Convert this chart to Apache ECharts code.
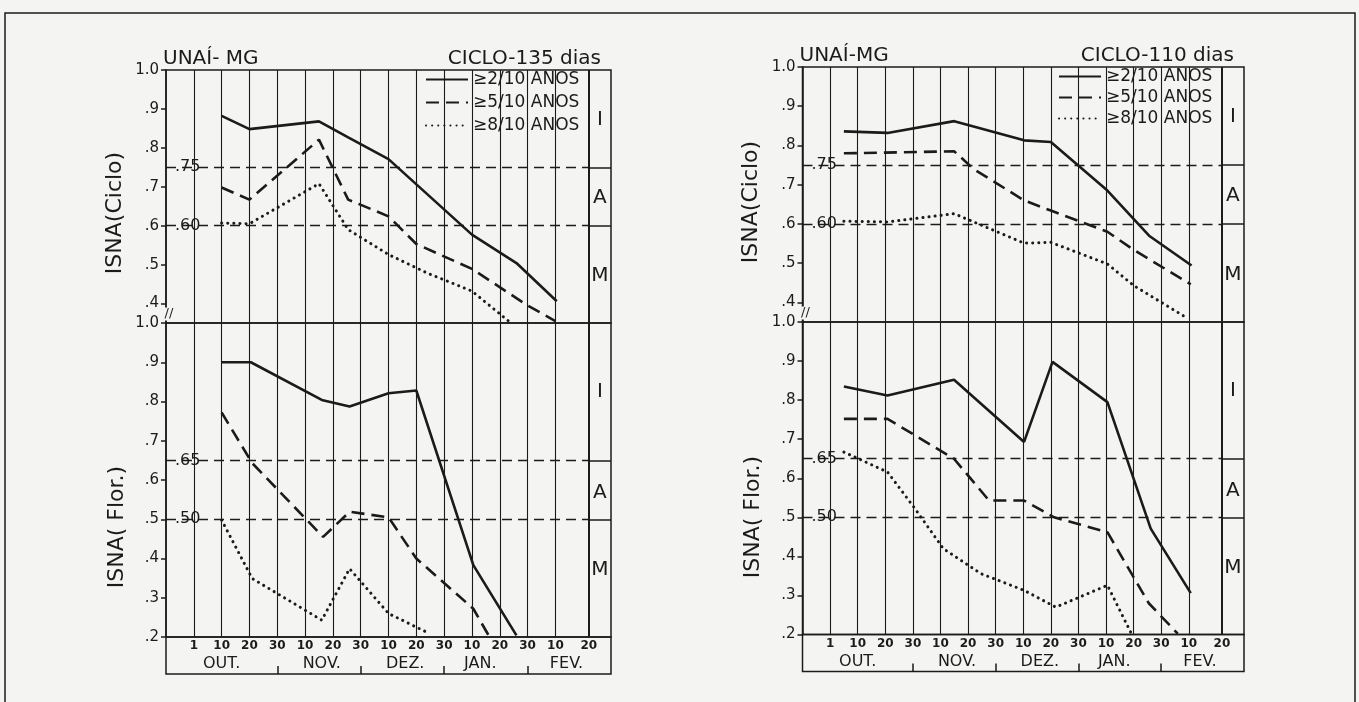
<!DOCTYPE html>
<html>
<head>
<meta charset="utf-8">
<title>ISNA - Unaí MG</title>
<script src="https://cdn.jsdelivr.net/npm/echarts@6/dist/echarts.min.js"></script>
<style>
  html, body { margin: 0; padding: 0; background: #f4f4f2; }
  #chart { width: 1359px; height: 702px; }
</style>
</head>
<body>
<div id="chart"></div>
<script>
// x is counted in ten-day steps: 1 = 1 OUT, 2 = 10 OUT, 3 = 20 OUT ... 14 = 10 FEV
const dayTicks = [1, 2, 3, 4, 5, 6, 7, 8, 9, 10, 11, 12, 13, 14, 15.2]
const dayLabels = ['1', '10', '20', '30', '10', '20', '30', '10', '20', '30', '10', '20', '30', '10', '20']
const monthPos = [2.0, 5.6, 8.6, 11.3, 14.4]
const monthLabels = ['OUT.', 'NOV.', 'DEZ.', 'JAN.', 'FEV.']
const monthSeps = [4, 7, 10, 13]
const seriesNames = ['≥2/10 ANOS', '≥5/10 ANOS', '≥8/10 ANOS']

const cicloTicks = [0.4, 0.5, 0.6, 0.7, 0.8, 0.9, 1.0]
const florTicks = [0.2, 0.3, 0.4, 0.5, 0.6, 0.7, 0.8, 0.9, 1.0]
const cicloLimits = [0.75, 0.60]
const cicloLimitLabels = ['.75', '.60']
const florLimits = [0.65, 0.50]
const florLimitLabels = ['.65', '.50']
const classLabels = ['I', 'A', 'M']
const cicloClassY = [0.872, 0.672, 0.47]
const florClassY = [0.825, 0.568, 0.37]

// CICLO-135 dias, ISNA(Ciclo)
const c135Ciclo2X = [2, 3, 5.5, 6.55, 8, 11, 12.6, 14.05]
const c135Ciclo2Y = [0.882, 0.848, 0.868, 0.827, 0.771, 0.577, 0.504, 0.406]
const c135Ciclo5X = [2, 3, 5.5, 6.55, 8, 9, 11, 13, 14]
const c135Ciclo5Y = [0.698, 0.667, 0.821, 0.667, 0.624, 0.553, 0.489, 0.395, 0.355]
const c135Ciclo8X = [2, 3, 5.5, 6.55, 8, 9.4, 11, 12.3]
const c135Ciclo8Y = [0.607, 0.605, 0.708, 0.59, 0.526, 0.478, 0.432, 0.356]

// CICLO-135 dias, ISNA(Flor.)
const c135Flor2X = [2, 3.05, 5.6, 6.6, 8, 9, 11.05, 12.6]
const c135Flor2Y = [0.9, 0.9, 0.804, 0.787, 0.821, 0.828, 0.383, 0.204]
const c135Flor5X = [2, 3.1, 5.65, 6.6, 8, 9, 11.05, 11.6]
const c135Flor5Y = [0.772, 0.643, 0.455, 0.519, 0.505, 0.4, 0.272, 0.204]
const c135Flor8X = [2, 3.1, 5.6, 6.6, 8, 9.35]
const c135Flor8Y = [0.498, 0.349, 0.243, 0.374, 0.26, 0.213]

// CICLO-110 dias, ISNA(Ciclo)
const c110Ciclo2X = [1.5, 3.08, 5.5, 8.03, 9, 11.05, 12.56, 14.1]
const c110Ciclo2Y = [0.836, 0.832, 0.862, 0.813, 0.809, 0.685, 0.57, 0.494]
const c110Ciclo5X = [1.5, 5.5, 6.2, 8.03, 9, 11.05, 12, 14.07]
const c110Ciclo5Y = [0.78, 0.785, 0.74, 0.66, 0.634, 0.58, 0.534, 0.446]
const c110Ciclo8X = [1.5, 3.08, 5.5, 8.03, 9, 11.05, 12, 13.8]
const c110Ciclo8Y = [0.607, 0.605, 0.626, 0.551, 0.553, 0.498, 0.443, 0.366]

// CICLO-110 dias, ISNA(Flor.)
const c110Flor2X = [1.5, 3.08, 5.49, 8.03, 9.06, 11.05, 12.62, 14.07]
const c110Flor2Y = [0.835, 0.812, 0.852, 0.693, 0.898, 0.795, 0.471, 0.306]
const c110Flor5X = [1.5, 3.08, 5.49, 6.76, 8.03, 9.12, 11.05, 12.55, 13.6]
const c110Flor5Y = [0.752, 0.752, 0.65, 0.543, 0.543, 0.5, 0.462, 0.28, 0.202]
const c110Flor8X = [1.5, 3.08, 4.1, 5.1, 6.46, 8.03, 9.18, 11.05, 11.9]
const c110Flor8Y = [0.667, 0.616, 0.52, 0.42, 0.356, 0.313, 0.27, 0.326, 0.205]

const ink = '#1b1b1b'
const paper = '#f4f4f2'
const fontFamily = 'DejaVu Sans'
const colEdge = 15.2
const classX = 15.6

const lineStyles = [
  { color: ink, width: 2.6, type: 'solid' },
  { color: ink, width: 2.6, type: [13, 7] },
  { color: ink, width: 3, type: [0.1, 6], cap: 'round' }
]

const zip = (xs, ys) => xs.map((x, i) => [x, ys[i]])
const yFmt = v => (v > 0.99 ? '1.0' : '.' + Math.round(v * 10))

const option = {
  backgroundColor: paper,
  animation: false,
  color: [ink, ink, ink],
  textStyle: { fontFamily },
  title: [],
  legend: [],
  grid: [],
  xAxis: [],
  yAxis: [],
  series: [],
  graphic: []
}

const textLabel = (size, extra) => Object.assign({
  show: true, formatter: '{b}', fontSize: size, color: ink, fontFamily,
  textBorderWidth: 0, opacity: 1
}, extra)

function addPanel (fig, top, height, min, ticks, limits, limitLabels, classY, lines) {
  const gi = option.grid.length
  option.grid.push({
    left: fig.left, top, width: fig.right - fig.left, height,
    show: true, borderColor: ink, borderWidth: 1.5, backgroundColor: 'transparent'
  })
  const xi = option.xAxis.length
  option.xAxis.push({ type: 'value', gridIndex: gi, min: 0, max: 16, show: false })
  const yi = option.yAxis.length
  option.yAxis.push({
    type: 'value', gridIndex: gi, min, max: 1,
    axisLine: { show: true, lineStyle: { color: ink, width: 1.5 } },
    axisTick: { show: true, length: 5, customValues: ticks, lineStyle: { color: ink, width: 1.5 } },
    axisLabel: { customValues: ticks, margin: 7, fontSize: 15, color: ink, fontFamily, formatter: yFmt },
    splitLine: { show: false }
  })
  const axes = { xAxisIndex: xi, yAxisIndex: yi }

  // vertical lines at the ten-day marks, the last one heavier
  option.series.push({
    type: 'line', ...axes, data: [], silent: true, z: 1,
    markLine: {
      silent: true, symbol: ['none', 'none'], label: { show: false },
      lineStyle: { color: ink, width: 1.1, type: 'solid' },
      data: dayTicks.map((t, i) => (i === dayTicks.length - 1 ? { xAxis: t, lineStyle: { width: 2 } } : { xAxis: t }))
    }
  })

  // class limits: dashed in the plot, solid in the class column
  option.series.push({
    type: 'line', ...axes, data: [], silent: true, z: 1,
    markLine: {
      silent: true, symbol: ['none', 'none'], label: { show: false },
      lineStyle: { color: ink },
      data: limits.flatMap(v => [
        [{ coord: [0, v], lineStyle: { type: [10, 6], width: 1.4 } }, { coord: [colEdge, v] }],
        [{ coord: [colEdge, v], lineStyle: { type: 'solid', width: 1.5 } }, { coord: [16, v] }]
      ])
    }
  })

  lines.forEach((pts, k) => {
    option.series.push({
      type: 'line', name: seriesNames[k], ...axes, data: pts,
      symbol: 'none', silent: true, z: 3, lineStyle: lineStyles[k], itemStyle: { color: ink }
    })
  })

  option.series.push({
    type: 'scatter', ...axes, symbolSize: 0.1, silent: true, z: 4,
    itemStyle: { color: ink },
    data: limits.map((v, i) => ({ value: [0.25, v], name: limitLabels[i] })),
    label: textLabel(16, { position: 'right', distance: 0, backgroundColor: paper, padding: [0, 2] })
  })
  option.series.push({
    type: 'scatter', ...axes, symbolSize: 0.1, silent: true, z: 4,
    itemStyle: { color: ink },
    data: classY.map((v, i) => ({ value: [classX, v], name: classLabels[i] })),
    label: textLabel(20, { position: 'inside' })
  })
}

function addLabelBox (fig) {
  const gi = option.grid.length
  option.grid.push({
    left: fig.left, top: fig.bottom, width: fig.right - fig.left, height: fig.boxBottom - fig.bottom,
    show: true, borderColor: ink, borderWidth: 1.5, backgroundColor: 'transparent'
  })
  option.xAxis.push({
    type: 'value', gridIndex: gi, min: 0, max: 16, position: 'top',
    axisLine: { show: false }, axisTick: { show: false }, splitLine: { show: false },
    axisLabel: {
      inside: true, margin: 3, customValues: dayTicks, fontSize: 12, fontWeight: 'bold', color: ink, fontFamily,
      formatter: v => dayLabels[dayTicks.indexOf(v)] || ''
    }
  })
  option.xAxis.push({
    type: 'value', gridIndex: gi, min: 0, max: 16, position: 'bottom',
    axisLine: { show: false }, splitLine: { show: false },
    axisTick: { show: true, inside: true, length: 8, customValues: monthSeps, lineStyle: { color: ink, width: 1.5 } },
    axisLabel: {
      inside: true, margin: 2, customValues: monthPos, fontSize: 16, color: ink, fontFamily,
      formatter: v => monthLabels[monthPos.indexOf(v)] || ''
    }
  })
  option.yAxis.push({ type: 'value', gridIndex: gi, min: 0, max: 1, show: false })
}

function addFigure (fig) {
  option.title.push(
    { text: fig.place, left: fig.left - 3, top: fig.top - 21, padding: 0,
      textStyle: { fontSize: 20, fontWeight: 'normal', color: ink, fontFamily } },
    { text: fig.cycle, right: 1359 - fig.right + 10, top: fig.top - 21, padding: 0,
      textStyle: { fontSize: 20, fontWeight: 'normal', color: ink, fontFamily } }
  )
  option.legend.push({
    data: seriesNames, orient: 'vertical', left: fig.legendLeft, top: fig.top + 1,
    itemWidth: 42, itemHeight: 14, itemGap: fig.legendGap, padding: [0, 8, 6, 4],
    backgroundColor: paper, selectedMode: false, z: 5,
    itemStyle: { color: 'transparent', borderColor: 'transparent', borderWidth: 0 },
    textStyle: { fontSize: 17, color: ink, fontFamily }
  })
  addPanel(fig, fig.top, fig.mid - fig.top, 0.35, cicloTicks, cicloLimits, cicloLimitLabels, cicloClassY, fig.ciclo)
  addPanel(fig, fig.mid, fig.bottom - fig.mid, 0.2, florTicks, florLimits, florLimitLabels, florClassY, fig.flor)
  addLabelBox(fig)

  option.graphic.push(
    { type: 'text', x: fig.left - 51, y: fig.cicloNameY, rotation: Math.PI / 2, silent: true,
      style: { text: 'ISNA(Ciclo)', font: '22px "DejaVu Sans"', fill: ink, align: 'center', verticalAlign: 'middle' } },
    { type: 'text', x: fig.left - 49, y: fig.florNameY, rotation: Math.PI / 2, silent: true,
      style: { text: 'ISNA( Flor.)', font: '22px "DejaVu Sans"', fill: ink, align: 'center', verticalAlign: 'middle' } },
    { type: 'text', x: fig.left + 3, y: fig.mid - 9, silent: true, z: 10,
      style: { text: '//', font: '13px "DejaVu Sans"', fill: ink, align: 'center', verticalAlign: 'middle', backgroundColor: paper } }
  )
}

addFigure({
  left: 166, right: 611, top: 70, mid: 323, bottom: 637, boxBottom: 674,
  legendLeft: 421, legendGap: 6, place: 'UNAÍ- MG', cycle: 'CICLO-135 dias', cicloNameY: 213, florNameY: 527,
  ciclo: [zip(c135Ciclo2X, c135Ciclo2Y), zip(c135Ciclo5X, c135Ciclo5Y), zip(c135Ciclo8X, c135Ciclo8Y)],
  flor: [zip(c135Flor2X, c135Flor2Y), zip(c135Flor5X, c135Flor5Y), zip(c135Flor8X, c135Flor8Y)]
})
addFigure({
  left: 802.5, right: 1244, top: 67, mid: 322, bottom: 634.5, boxBottom: 671.5,
  legendLeft: 1054, legendGap: 4, place: 'UNAÍ-MG', cycle: 'CICLO-110 dias', cicloNameY: 202, florNameY: 517,
  ciclo: [zip(c110Ciclo2X, c110Ciclo2Y), zip(c110Ciclo5X, c110Ciclo5Y), zip(c110Ciclo8X, c110Ciclo8Y)],
  flor: [zip(c110Flor2X, c110Flor2Y), zip(c110Flor5X, c110Flor5Y), zip(c110Flor8X, c110Flor8Y)]
})

// outer frame of the page
option.graphic.push({
  type: 'rect', silent: true, z: 0,
  shape: { x: 5, y: 13, width: 1350, height: 720 },
  style: { fill: 'none', stroke: ink, lineWidth: 1.5 }
})

const chart = echarts.init(document.getElementById('chart'))
chart.setOption(option)
window.addEventListener('resize', () => chart.resize())
</script>
</body>
</html>
